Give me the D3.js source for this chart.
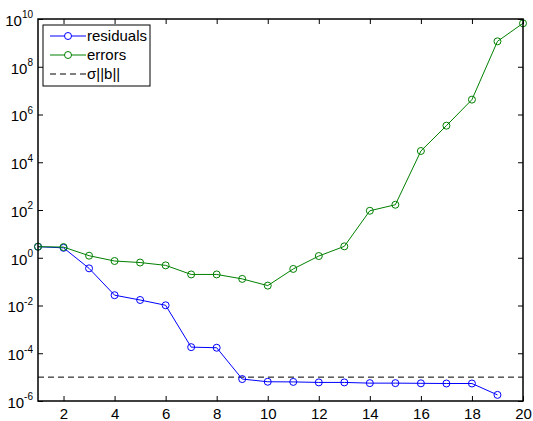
<!DOCTYPE html>
<html>
<head>
<meta charset="utf-8">
<script src="https://cdn.jsdelivr.net/npm/d3@7"></script>
<style>
  body { margin: 0; background: #fff; }
  text { font-family: "Liberation Sans", Arial, Helvetica, sans-serif; }
</style>
</head>
<body>
<div id="chart-area"></div>
<script>
// iteration number on x, log10 value on y
const ITER_RES = [1, 2, 3, 4, 5, 6, 7, 8, 9, 10, 11, 12, 13, 14, 15, 16, 17, 18, 19]
const RESIDUALS = [2.9, 2.6, 0.36, 0.027, 0.017, 0.0102, 1.8e-4, 1.7e-4, 8.3e-6, 6.4e-6,
  6.3e-6, 6.0e-6, 6.0e-6, 5.6e-6, 5.6e-6, 5.5e-6, 5.4e-6, 5.4e-6, 1.8e-6]

const ITER_ERR = [1, 2, 3, 4, 5, 6, 7, 8, 9, 10, 11, 12, 13, 14, 15, 16, 17, 18, 19, 20]
const ERRORS = [2.9, 2.8, 1.22, 0.73, 0.63, 0.48, 0.2, 0.2, 0.13, 0.068,
  0.34, 1.18, 3.0, 93, 166, 2.96e4, 3.4e5, 4.2e6, 1.16e9, 6.6e9]

const SIGMA_B = 1e-5

const X_TICKS = [2, 4, 6, 8, 10, 12, 14, 16, 18, 20]
const Y_EXPONENTS = [-6, -4, -2, 0, 2, 4, 6, 8, 10]

const LEGEND = ["residuals", "errors", "\u03c3||b||"]

const W = 533, H = 421
const MARGIN = { LEFT: 38, RIGHT: 10, TOP: 19, BOTTOM: 20 }
const WIDTH = W - MARGIN.LEFT - MARGIN.RIGHT
const HEIGHT = H - MARGIN.TOP - MARGIN.BOTTOM

const BLUE = "#0000ff", GREEN = "#008000"

const svg = d3.select("#chart-area").append("svg")
  .attr("width", W)
  .attr("height", H)

const g = svg.append("g")
  .attr("transform", `translate(${MARGIN.LEFT}, ${MARGIN.TOP})`)

const x = d3.scaleLinear()
  .domain([1, 20])
  .range([0, WIDTH])

const y = d3.scaleLog()
  .domain([1e-6, 1e10])
  .range([HEIGHT, 0])

const yTickVals = Y_EXPONENTS.map(e => Math.pow(10, e))

// axes, ticks pointing inward like matlab
const xAxis = g.append("g")
  .attr("transform", `translate(0, ${HEIGHT})`)
  .call(d3.axisBottom(x).tickValues(X_TICKS).tickSizeInner(-5).tickSizeOuter(0).tickPadding(7))
xAxis.selectAll("text")
  .attr("font-size", "15px")
  .attr("fill", "#000")
  .attr("dy", "0.71em")

g.append("g")
  .call(d3.axisTop(x).tickValues(X_TICKS).tickSizeInner(-5).tickSizeOuter(0).tickFormat(""))

const yAxis = g.append("g")
  .call(d3.axisLeft(y).tickValues(yTickVals).tickSizeInner(-5).tickSizeOuter(0).tickPadding(4)
    .tickFormat(() => ""))

yAxis.selectAll(".tick text").each(function (d, i) {
  const t = d3.select(this)
  t.attr("font-size", "15px").attr("fill", "#000").attr("dy", "0.42em").attr("x", -5)
  t.append("tspan").text("10")
  t.append("tspan")
    .attr("font-size", "10px")
    .attr("dy", "-0.75em")
    .text(Y_EXPONENTS[i])
})

g.append("g")
  .attr("transform", `translate(${WIDTH}, 0)`)
  .call(d3.axisRight(y).tickValues(yTickVals).tickSizeInner(-5).tickSizeOuter(0).tickFormat(""))

g.selectAll(".domain").remove()
g.selectAll(".tick line").attr("stroke", "#000")

// sigma||b|| reference line
g.append("line")
  .attr("x1", 0)
  .attr("x2", WIDTH)
  .attr("y1", y(SIGMA_B))
  .attr("y2", y(SIGMA_B))
  .attr("stroke", "#000")
  .attr("stroke-width", 1)
  .attr("stroke-dasharray", "6,4")

const line = d3.line()
  .x(d => x(d[0]))
  .y(d => y(d[1]))

const series = [
  { pts: ITER_RES.map((it, i) => [it, RESIDUALS[i]]), color: BLUE },
  { pts: ITER_ERR.map((it, i) => [it, ERRORS[i]]), color: GREEN }
]

// blue first, green drawn on top of it
series.forEach(s => {
  g.append("path")
    .datum(s.pts)
    .attr("fill", "none")
    .attr("stroke", s.color)
    .attr("stroke-width", 1)
    .attr("d", line)

  g.selectAll(null)
    .data(s.pts)
    .enter().append("circle")
    .attr("cx", d => x(d[0]))
    .attr("cy", d => y(d[1]))
    .attr("r", 3.5)
    .attr("fill", "none")
    .attr("stroke", s.color)
    .attr("stroke-width", 1)
})

// box
g.append("rect")
  .attr("width", WIDTH)
  .attr("height", HEIGHT)
  .attr("fill", "none")
  .attr("stroke", "#000")
  .attr("stroke-width", 1.5)

// legend
const legend = svg.append("g").attr("transform", "translate(43, 25)")
legend.append("rect")
  .attr("width", 107)
  .attr("height", 61)
  .attr("fill", "#fff")
  .attr("stroke", "#000")
  .attr("stroke-width", 1)

const legendColors = [BLUE, GREEN, "#000"]
LEGEND.forEach((name, i) => {
  const ly = 11 + i * 19
  const row = legend.append("g").attr("transform", `translate(0, ${ly})`)
  row.append("line")
    .attr("x1", 7).attr("x2", 43)
    .attr("stroke", legendColors[i])
    .attr("stroke-width", 1)
    .attr("stroke-dasharray", i === 2 ? "6,4" : null)
  if (i < 2) {
    row.append("circle")
      .attr("cx", 25).attr("r", 3.5)
      .attr("fill", "#fff")
      .attr("stroke", legendColors[i])
  }
  row.append("text")
    .attr("x", 44)
    .attr("dy", "0.35em")
    .attr("font-size", "15px")
    .text(name)
})
</script>
</body>
</html>
